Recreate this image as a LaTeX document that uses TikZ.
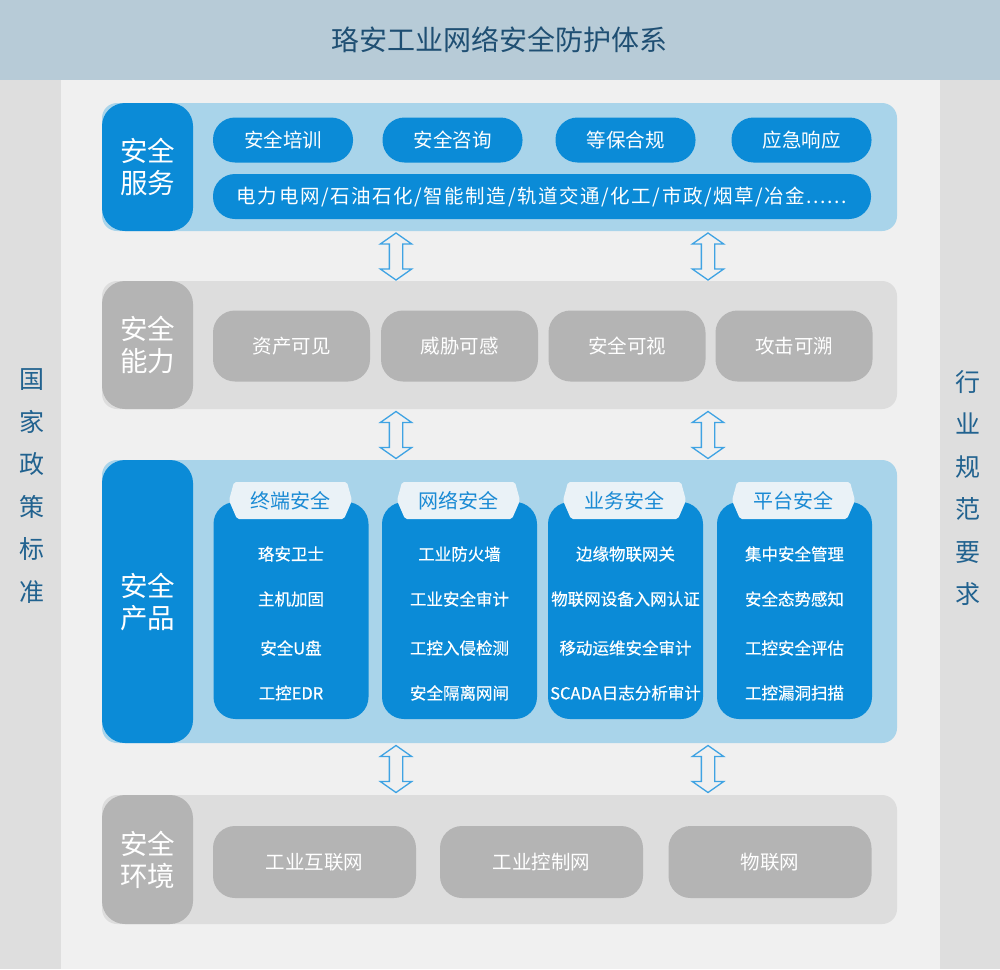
\documentclass[tikz,border=0pt]{standalone}
\usepackage{fontspec}
\setmainfont{Noto Sans CJK SC}
\newfontfamily\medfont[FakeBold=0.5]{Noto Sans CJK SC}
\newfontfamily\widefont[LetterSpace=8]{Noto Sans CJK SC}
\usetikzlibrary{shapes.arrows}

\definecolor{topbar}{HTML}{B7CBD7}
\definecolor{titleblue}{HTML}{1F4F73}
\definecolor{sidegray}{HTML}{DEDEDE}
\definecolor{midgray}{HTML}{F0F0F0}
\definecolor{deepblue}{HTML}{0B8BD7}
\definecolor{paleblue}{HTML}{A9D4EA}
\definecolor{panelgray}{HTML}{DDDDDD}
\definecolor{boxgray}{HTML}{B4B4B4}
\definecolor{sideblue}{HTML}{21628F}
\definecolor{tabwhite}{HTML}{EAF2F7}
\definecolor{headblue}{HTML}{1A8AD4}
\definecolor{arrowblue}{HTML}{3FA3E3}

\begin{document}
\begin{tikzpicture}[x=1pt, y=-1pt,
  panel/.style = {rounded corners=15pt, minimum width=795pt, inner sep=0pt},
  lbl/.style = {rounded corners=23pt, minimum width=91pt, inner sep=0pt, text=white, align=center, font=\fontsize{27.5}{32}\selectfont},
  pill/.style = {rounded corners=22pt, inner sep=0pt, text=white, font=\fontsize{19.5}{20}\selectfont},
  side/.style = {text=sideblue, align=center, font=\fontsize{25}{42.5}\selectfont},
  col/.style = {fill=deepblue, rounded corners=22pt, minimum width=155pt, minimum height=217pt},
  tab/.style = {fill=tabwhite, rounded corners=2pt},
  head/.style = {text=headblue, font=\fontsize{20}{20}\selectfont},
  item/.style = {text=white, font=\medfont\fontsize{16.5}{17}\selectfont},
  updown/.style = {double arrow, draw=arrowblue, line width=1.3pt, rotate=90, minimum height=47pt, inner sep=0pt, inner ysep=6pt, double arrow head extend=9pt, double arrow tip angle=110}]

  \useasboundingbox (0,0) rectangle (1000,969);
  \fill[midgray] (0,0) rectangle (1000,969);
  \fill[sidegray] (0,80) rectangle (61,969);
  \fill[sidegray] (940,80) rectangle (1000,969);
  \fill[topbar] (0,0) rectangle (1000,80);
  \node[text=titleblue, font=\fontsize{28}{28}\selectfont] (title) at (499,40) {珞安工业网络安全防护体系};

  \node[side] (policy) at (32,486) {国\\家\\政\\策\\标\\准};
  \node[side] (norm) at (968,488) {行\\业\\规\\范\\要\\求};

  % 安全服务
  \node[panel, fill=paleblue, minimum height=128pt] (svcbg) at (499.5,167) {};
  \node[lbl, fill=deepblue, minimum height=128pt] (svc) at (147.5,167) {安全\\服务};
  \node[pill, fill=deepblue, minimum width=140pt, minimum height=45pt] (svc1) at (283,140) {安全培训};
  \node[pill, fill=deepblue, minimum width=140pt, minimum height=45pt] (svc2) at (452.5,140) {安全咨询};
  \node[pill, fill=deepblue, minimum width=140pt, minimum height=45pt] (svc3) at (625.5,140) {等保合规};
  \node[pill, fill=deepblue, minimum width=140pt, minimum height=45pt] (svc4) at (801.5,140) {应急响应};
  \node[pill, fill=deepblue, minimum width=658pt, minimum height=45pt, font=\widefont\fontsize{19.5}{20}\selectfont] (svc5) at (542,196.5) {电力电网/石油石化/智能制造/轨道交通/化工/市政/烟草/冶金......};

  % 安全能力
  \node[panel, fill=panelgray, minimum height=128pt] (capbg) at (499.5,345) {};
  \node[lbl, fill=boxgray, minimum height=128pt] (cap) at (147.5,345) {安全\\能力};
  \node[pill, fill=boxgray, minimum width=157pt, minimum height=71pt] (cap1) at (291.5,346) {资产可见};
  \node[pill, fill=boxgray, minimum width=157pt, minimum height=71pt] (cap2) at (459.5,346) {威胁可感};
  \node[pill, fill=boxgray, minimum width=157pt, minimum height=71pt] (cap3) at (627,346) {安全可视};
  \node[pill, fill=boxgray, minimum width=157pt, minimum height=71pt] (cap4) at (794,346) {攻击可溯};

  % 安全产品
  \node[panel, fill=paleblue, minimum height=283pt] (prodbg) at (499.5,601.5) {};
  \node[lbl, fill=deepblue, minimum height=283pt] (prod) at (147.5,601.5) {安全\\产品};

  \node[col] (col1) at (291,610.5) {};
  \fill[tab] (234,482) -- (347,482) -- (352,500.5) -- (344,519) -- (237,519) -- (229,500.5) -- cycle;
  \node[head] (head1) at (290.5,500.5) {终端安全};
  \node[item] (item1a) at (291,554) {珞安卫士};
  \node[item] (item1b) at (291,599) {主机加固};
  \node[item] (item1c) at (291,648) {安全U盘};
  \node[item] (item1d) at (291,693) {工控EDR};

  \node[col] (col2) at (459.5,610.5) {};
  \fill[tab] (402,482) -- (515,482) -- (520,500.5) -- (512,519) -- (405,519) -- (397,500.5) -- cycle;
  \node[head] (head2) at (458.5,500.5) {网络安全};
  \node[item] (item2a) at (459.5,554) {工业防火墙};
  \node[item] (item2b) at (459.5,599) {工业安全审计};
  \node[item] (item2c) at (459.5,648) {工控入侵检测};
  \node[item] (item2d) at (459.5,693) {安全隔离网闸};

  \node[col] (col3) at (625.5,610.5) {};
  \fill[tab] (568,482) -- (681,482) -- (686,500.5) -- (678,519) -- (571,519) -- (563,500.5) -- cycle;
  \node[head] (head3) at (624.5,500.5) {业务安全};
  \node[item] (item3a) at (625.5,554) {边缘物联网关};
  \node[item] (item3b) at (625.5,599) {物联网设备入网认证};
  \node[item] (item3c) at (625.5,648) {移动运维安全审计};
  \node[item] (item3d) at (625.5,693) {SCADA日志分析审计};

  \node[col] (col4) at (794.5,610.5) {};
  \fill[tab] (737,482) -- (850,482) -- (855,500.5) -- (847,519) -- (740,519) -- (732,500.5) -- cycle;
  \node[head] (head4) at (793.5,500.5) {平台安全};
  \node[item] (item4a) at (794.5,554) {集中安全管理};
  \node[item] (item4b) at (794.5,599) {安全态势感知};
  \node[item] (item4c) at (794.5,648) {工控安全评估};
  \node[item] (item4d) at (794.5,693) {工控漏洞扫描};

  % 安全环境
  \node[panel, fill=panelgray, minimum height=129pt] (envbg) at (499.5,859.5) {};
  \node[lbl, fill=boxgray, minimum height=129pt] (env) at (147.5,859.5) {安全\\环境};
  \node[pill, fill=boxgray, minimum width=203pt, minimum height=72pt] (env1) at (314.5,862) {工业互联网};
  \node[pill, fill=boxgray, minimum width=203pt, minimum height=72pt] (env2) at (541.5,862) {工业控制网};
  \node[pill, fill=boxgray, minimum width=203pt, minimum height=72pt] (env3) at (770,862) {物联网};

  % arrows between the layers
  \node[updown] (svccap1) at (396,256.5) {};
  \node[updown] (svccap2) at (708,256.5) {};
  \node[updown] (capprod1) at (396,435) {};
  \node[updown] (capprod2) at (708,435) {};
  \node[updown] (prodenv1) at (396,769) {};
  \node[updown] (prodenv2) at (708,769) {};
\end{tikzpicture}
\end{document}
